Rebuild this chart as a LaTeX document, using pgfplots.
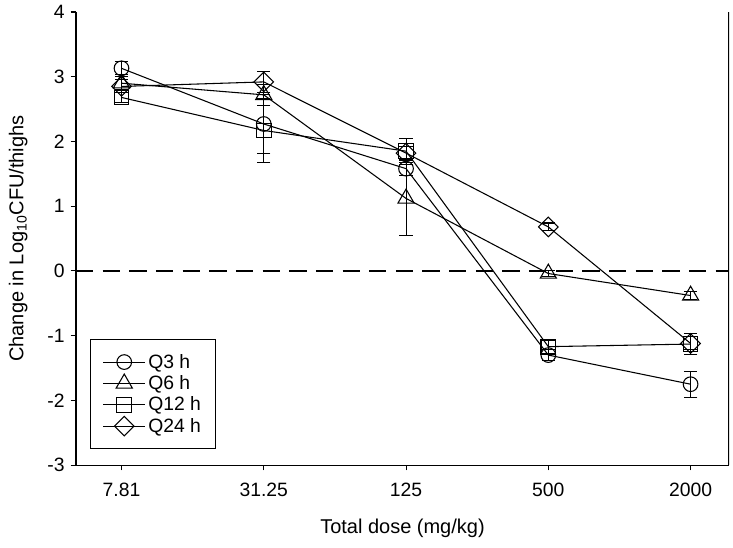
\documentclass[border=0pt]{standalone}
\usepackage{pgfplots}
\pgfplotsset{compat=1.18}
\usepackage{fontspec}
\setmainfont{Liberation Sans}

\begin{document}
\begin{tikzpicture}
\begin{axis}[
  scale only axis,
  width=490pt, height=340pt,
  xmin=-0.32, xmax=4.27,
  ymin=-3, ymax=4,
  axis x line*=bottom, axis y line*=left,
  xtick={0,1,2,3,4},
  xticklabels={7.81,31.25,125,500,2000},
  ytick={-3,-2,-1,0,1,2,3,4},
  tick align=outside, major tick length=4pt,
  tick style={black, line width=0.8pt},
  axis line style={line width=0.9pt},
  /pgf/number format/assume math mode=true,
  ticklabel style={font=\fontsize{14.5}{17}\selectfont},
  label style={font=\fontsize{15}{18}\selectfont},
  xlabel={Total dose (mg/kg)},
  ylabel={Change in Log\textsubscript{10}CFU/thighs},
  xlabel style={yshift=-10pt},
  ylabel style={yshift=8pt},
  xticklabel style={yshift=-6pt},
  yticklabel style={xshift=-1pt},
  legend style={at={(0.022,0.035)}, anchor=south west, draw=black, line width=0.8pt,
    font=\fontsize{14.5}{17}\selectfont, row sep=0pt, inner xsep=9pt, inner ysep=9pt,
    legend cell align=left},
  legend image code/.code={
    \draw[mark repeat=2, mark phase=2] plot coordinates {(0cm,0cm) (0.55cm,0cm) (1.1cm,0cm)};
  },
  cycle list={{black}},
  every axis plot/.append style={black, line width=0.8pt, mark size=5.5pt,
    error bars/y dir=both, error bars/y explicit,
    error bars/error mark options={rotate=90, mark size=5pt, line width=0.8pt},
    error bars/error bar style={line width=0.8pt}},
]
% Q3 h
\addplot[black, mark=o, mark options={solid}] coordinates {
  (0,3.13) +- (0,0.10)
  (1,2.27) +- (0,0.45)
  (2,1.58) +- (0,0.10)
  (3,-1.30) +- (0,0.08)
  (4,-1.75) +- (0,0.20)
};
% Q6 h
\addplot[black, mark=triangle, mark size=7pt, mark options={solid}] coordinates {
  (0,2.90) +- (0,0.10)
  (1,2.72) +- (0,0.16)
  (2,1.12) +- (0,0.58)
  (3,-0.04) +- (0,0.05)
  (4,-0.38) +- (0,0.06)
};
% Q12 h
\addplot[black, mark=square, mark options={solid}] coordinates {
  (0,2.68) +- (0,0.08)
  (1,2.17) +- (0,0.50)
  (2,1.85) +- (0,0.20)
  (3,-1.17) +- (0,0.10)
  (4,-1.13) +- (0,0.16)
};
% Q24 h
\addplot[black, mark=square, mark size=5.2pt, mark options={solid, rotate=45}] coordinates {
  (0,2.85) +- (0,0.10)
  (1,2.92) +- (0,0.16)
  (2,1.82) +- (0,0.10)
  (3,0.68) +- (0,0.06)
  (4,-1.12) +- (0,0.10)
};
\legend{Q3 h, Q6 h, Q12 h, Q24 h}
\draw[black, line width=1.3pt, dash pattern=on 13pt off 7pt]
  (axis cs:-0.32,0) -- (axis cs:4.27,0);
\draw[line width=0.9pt] (rel axis cs:1,0) -- (rel axis cs:1,1);
\coordinate (SW) at (rel axis cs:0,0);
\coordinate (NE) at (rel axis cs:1,1);
\end{axis}
\pgfresetboundingbox
\path ([shift={(-57pt,-61.5pt)}]SW) rectangle ([shift={(3pt,9pt)}]NE);
\end{tikzpicture}
\end{document}
